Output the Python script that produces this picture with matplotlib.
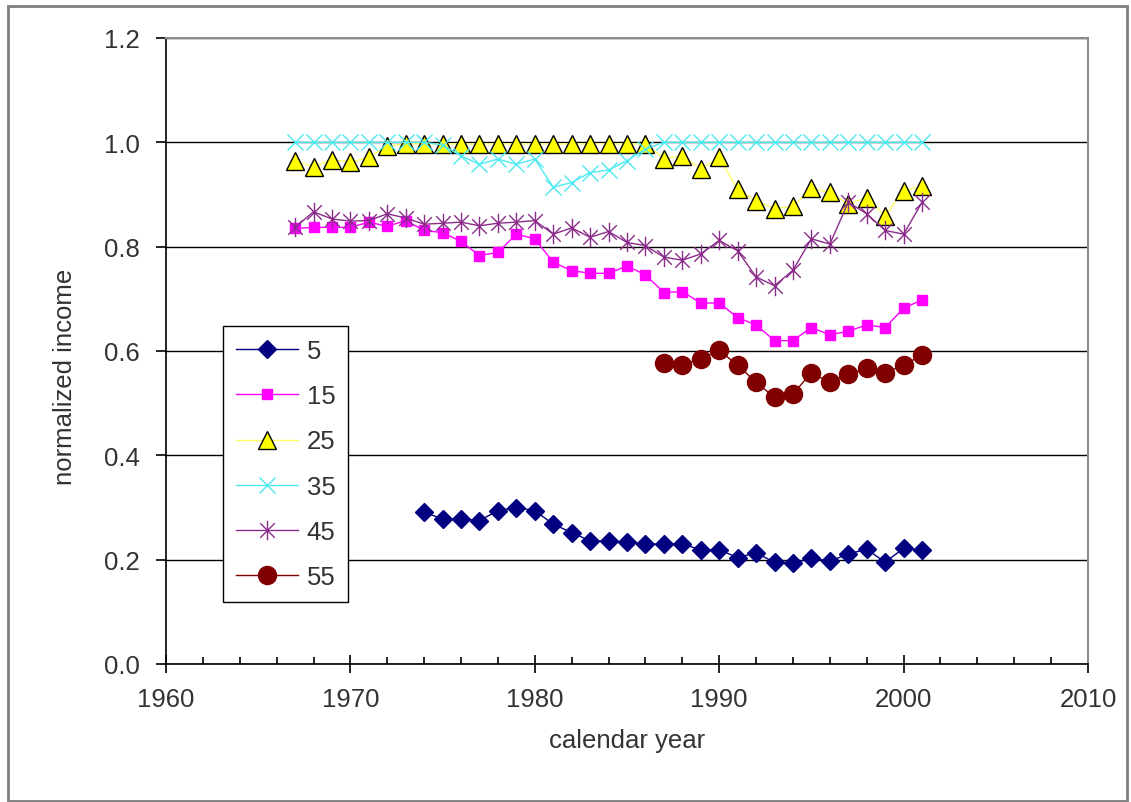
import matplotlib
matplotlib.use("Agg")
import matplotlib.pyplot as plt
from matplotlib.path import Path
from matplotlib.patches import Rectangle
from matplotlib.ticker import MultipleLocator, FuncFormatter

plt.rcParams['font.family'] = ['Liberation Sans', 'DejaVu Sans']

# ---- data ----
years_5 = list(range(1974, 2002))
vals_5 = [0.291, 0.278, 0.278, 0.275, 0.294, 0.300, 0.294, 0.268, 0.252, 0.236,
          0.236, 0.233, 0.230, 0.230, 0.230, 0.219, 0.219, 0.204, 0.213, 0.195,
          0.193, 0.203, 0.197, 0.211, 0.220, 0.195, 0.222, 0.218]

years_15 = list(range(1967, 2002))
vals_15 = [0.835, 0.837, 0.837, 0.837, 0.847, 0.839, 0.850, 0.831, 0.827, 0.810,
           0.783, 0.789, 0.824, 0.815, 0.770, 0.754, 0.749, 0.749, 0.763, 0.746,
           0.712, 0.714, 0.692, 0.692, 0.664, 0.650, 0.620, 0.620, 0.645, 0.631,
           0.638, 0.650, 0.645, 0.682, 0.698]

years_25 = list(range(1967, 2002))
vals_25 = [0.965, 0.952, 0.967, 0.962, 0.971, 0.993, 0.997, 0.997, 0.997, 0.997,
           0.997, 0.997, 0.997, 0.997, 0.997, 0.997, 0.997, 0.997, 0.997, 0.997,
           0.969, 0.974, 0.949, 0.971, 0.910, 0.888, 0.873, 0.877, 0.912, 0.904,
           0.882, 0.894, 0.859, 0.907, 0.916]

years_35 = list(range(1967, 2002))
vals_35 = [1.000, 1.000, 1.000, 1.000, 1.000, 1.000, 1.000, 1.000, 0.995, 0.974,
           0.958, 0.968, 0.958, 0.968, 0.914, 0.923, 0.942, 0.947, 0.965, 0.987,
           1.000, 1.000, 1.000, 1.000, 1.000, 1.000, 1.000, 1.000, 1.000, 1.000,
           1.000, 1.000, 1.000, 1.000, 1.000]

years_45 = list(range(1967, 2002))
vals_45 = [0.837, 0.867, 0.853, 0.849, 0.850, 0.863, 0.855, 0.843, 0.845, 0.847,
           0.840, 0.845, 0.847, 0.850, 0.824, 0.836, 0.818, 0.829, 0.808, 0.802,
           0.780, 0.774, 0.786, 0.812, 0.792, 0.742, 0.725, 0.755, 0.815, 0.805,
           0.885, 0.863, 0.831, 0.824, 0.885]

years_55 = list(range(1987, 2002))
vals_55 = [0.577, 0.573, 0.585, 0.601, 0.573, 0.540, 0.511, 0.518, 0.558, 0.540,
           0.555, 0.567, 0.558, 0.573, 0.592]

labels = ['5', '15', '25', '35', '45', '55']

# ---- figure ----
W, H = 1131, 803
fig = plt.figure(figsize=(W / 100, H / 100), dpi=100)
ax = fig.add_axes([166 / W, 1 - 665 / H, (1088 - 166) / W, (665 - 39) / H])

# asterisk marker (vertical bar + X)
d = 0.75
star = Path([(0, -1), (0, 1), (-d, -d), (d, d), (-d, d), (d, -d)],
            [Path.MOVETO, Path.LINETO, Path.MOVETO, Path.LINETO, Path.MOVETO, Path.LINETO])

ax.plot(years_5, vals_5, color='#000080', lw=1.0, marker='D', ms=9.5,
        mfc='#000080', mec='#000080', label=labels[0], zorder=3)
ax.plot(years_15, vals_15, color='#FF00FF', lw=1.0, marker='s', ms=7,
        mfc='#FF00FF', mec='#FF00FF', label=labels[1], zorder=3)
ax.plot(years_25, vals_25, color='#FFFF66', lw=1.0, marker='^', ms=13,
        mfc='#FFFF00', mec='#000000', mew=1.0, label=labels[2], zorder=3)
ax.plot(years_35, vals_35, color='#4DEAF2', lw=1.0, marker='x', ms=11,
        mec='#4DEAF2', mew=1.0, label=labels[3], zorder=3)
ax.plot(years_45, vals_45, color='#8B2C8B', lw=1.0, marker=star, ms=14,
        mfc='none', mec='#8B2C8B', mew=1.0, label=labels[4], zorder=3)
ax.plot(years_55, vals_55, color='#800000', lw=1.0, marker='o', ms=13,
        mfc='#800000', mec='#800000', label=labels[5], zorder=3)

ax.set_xlim(1960, 2010)
ax.set_ylim(0, 1.2)
ax.xaxis.set_major_locator(MultipleLocator(10))
ax.xaxis.set_minor_locator(MultipleLocator(2))
ax.yaxis.set_major_locator(MultipleLocator(0.2))
ax.yaxis.set_major_formatter(FuncFormatter(lambda v, p: f"{v:.1f}"))

ax.grid(axis='y', which='major', color='black', lw=1.0, zorder=1)
ax.set_axisbelow(True)

for s in ['top', 'right']:
    ax.spines[s].set_color('#8c8c8c')
    ax.spines[s].set_linewidth(1.5)
for s in ['left', 'bottom']:
    ax.spines[s].set_color('black')
    ax.spines[s].set_linewidth(1.2)

txt = '#333333'
fs = 18.5
ax.tick_params(axis='x', which='major', direction='inout', length=13, width=1.2,
               labelsize=fs, pad=10, colors='black', labelcolor=txt)
ax.tick_params(axis='x', which='minor', direction='in', length=5, width=1.2, colors='black')
ax.tick_params(axis='y', which='major', direction='out', length=7, width=1.2,
               labelsize=fs, pad=12, colors='black', labelcolor=txt)

ax.set_xlabel('calendar year', fontsize=fs, color=txt, labelpad=12)
ax.set_ylabel('normalized income', fontsize=fs, color=txt)
ax.yaxis.set_label_coords(-0.097, 0.46)

leg = ax.legend(loc='upper left', bbox_to_anchor=(223 / W, 1 - 327 / H),
                bbox_transform=fig.transFigure, borderaxespad=0, fontsize=fs,
                frameon=True, fancybox=False, framealpha=1, edgecolor='black',
                labelspacing=0.83, handlelength=2.4, handletextpad=0.35,
                borderpad=0.5, labelcolor=txt)
leg.get_frame().set_linewidth(1.0)

fig.patches.append(Rectangle((8 / W, 1 / H), (1127 - 8) / W, (796 - 1) / H,
                             transform=fig.transFigure, fill=False,
                             edgecolor='#7f7f7f', lw=2))

fig.savefig('out.png', dpi=100)
